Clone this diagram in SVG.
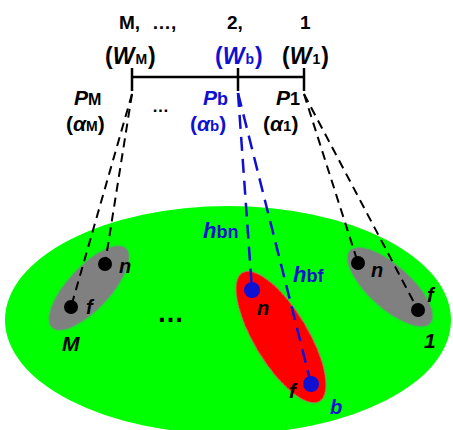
<svg xmlns="http://www.w3.org/2000/svg" width="453" height="430" viewBox="0 0 453 430">
<style>
text{font-family:"Liberation Sans",Arial,sans-serif;font-weight:bold}
.it{font-style:italic}
.blue{fill:#1010D0}
.dk{stroke:#000;stroke-width:2;stroke-dasharray:9 6;fill:none}
.db{stroke:#1010D0;stroke-width:2.5;stroke-dasharray:14 8;fill:none}
.gray{fill:#808080}
</style>
<defs>
<filter id="glow" x="-20%" y="-20%" width="140%" height="140%">
<feGaussianBlur in="SourceAlpha" stdDeviation="1.5" result="b"/>
<feFlood flood-color="#6f86a8" flood-opacity="0.7"/>
<feComposite in2="b" operator="in" result="s"/>
<feMerge><feMergeNode in="s"/><feMergeNode in="SourceGraphic"/></feMerge>
</filter>
</defs>
<rect width="453" height="430" fill="#fff"/>
<g id="plane"><ellipse cx="228" cy="320" rx="223" ry="114" fill="#00FF00"/></g>
<g id="groupM">
<ellipse class="gray" cx="89" cy="288" rx="54" ry="21" transform="rotate(-47 89 288)" filter="url(#glow)"/>
<circle cx="105" cy="264" r="7"/><circle cx="71" cy="307" r="7"/>
<text class="it" x="119" y="273" font-size="20">n</text>
<text class="it" x="86" y="314" font-size="20">f</text>
<text class="it" x="62" y="351" font-size="21">M</text>
</g>
<g id="group1">
<ellipse class="gray" cx="390" cy="287" rx="54" ry="21" transform="rotate(42 390 287)" filter="url(#glow)"/>
<circle cx="358" cy="263" r="7"/><circle cx="418" cy="310" r="7"/>
<text class="it" x="371" y="277" font-size="20">n</text>
<text class="it" x="427" y="302" font-size="20">f</text>
<text class="it" x="424" y="348" font-size="21">1</text>
</g>
<g id="groupb">
<ellipse cx="281" cy="337" rx="75" ry="27" fill="#FF0000" transform="rotate(59 281 337)" filter="url(#glow)"/>
<circle cx="252" cy="290" r="8" fill="#1010D0"/><circle cx="311" cy="384" r="8" fill="#1010D0"/>
<text class="it" x="257" y="315" font-size="20">n</text>
<text class="it" x="289" y="398" font-size="20">f</text>
<text class="it blue" x="330" y="414" font-size="20">b</text>
</g>
<text id="dots-mid" x="157" y="322" font-size="27">…</text>
<g id="bar">
<line x1="132" y1="77" x2="304" y2="77" stroke="#000" stroke-width="2.5"/>
<line x1="132" y1="68" x2="132" y2="91" stroke="#000" stroke-width="2.5"/>
<line x1="238" y1="68" x2="238" y2="91" stroke="#000" stroke-width="2.5"/>
<line x1="304" y1="68" x2="304" y2="91" stroke="#000" stroke-width="2.5"/>
</g>
<g id="connectors">
<line class="dk" x1="132" y1="94" x2="71" y2="307"/>
<line class="dk" x1="132" y1="94" x2="105" y2="264"/>
<line class="dk" x1="304" y1="94" x2="358" y2="263"/>
<line class="dk" x1="304" y1="94" x2="418" y2="310"/>
<line class="db" x1="238" y1="93" x2="252" y2="290"/>
<line class="db" x1="238" y1="93" x2="311" y2="384"/>
</g>
<g id="labels-top">
<text x="119" y="29" font-size="19">M,</text>
<text x="152" y="29" font-size="19">…,</text>
<text x="227" y="29" font-size="19">2,</text>
<text x="300" y="29" font-size="19">1</text>
<text x="105" y="64" font-size="23">(<tspan class="it">W</tspan><tspan font-size="14" dx="1">M</tspan><tspan dx="1">)</tspan></text>
<text class="blue" x="215" y="64" font-size="23">(<tspan class="it">W</tspan><tspan font-size="14" dx="1">b</tspan><tspan dx="1">)</tspan></text>
<text x="282" y="64" font-size="23">(<tspan class="it">W</tspan><tspan font-size="14" dx="1">1</tspan><tspan dx="1">)</tspan></text>
<text x="74" y="105" font-size="21"><tspan class="it">P</tspan><tspan font-size="16">M</tspan></text>
<text x="66" y="131" font-size="21">(<tspan class="it">α</tspan><tspan font-size="14">M</tspan>)</text>
<text x="152" y="112" font-size="17">…</text>
<text class="blue" x="203" y="105" font-size="21"><tspan class="it">P</tspan><tspan font-size="18">b</tspan></text>
<text class="blue" x="190" y="131" font-size="21">(<tspan class="it">α</tspan><tspan font-size="15">b</tspan>)</text>
<text x="276" y="105" font-size="21"><tspan class="it">P</tspan><tspan font-size="18">1</tspan></text>
<text x="263" y="131" font-size="21">(<tspan class="it">α</tspan><tspan font-size="15">1</tspan>)</text>
<text class="blue" x="203" y="238" font-size="22"><tspan class="it">h</tspan><tspan font-size="18">bn</tspan></text>
<text class="blue" x="293" y="282" font-size="22"><tspan class="it">h</tspan><tspan font-size="18">bf</tspan></text>
</g>
</svg>
